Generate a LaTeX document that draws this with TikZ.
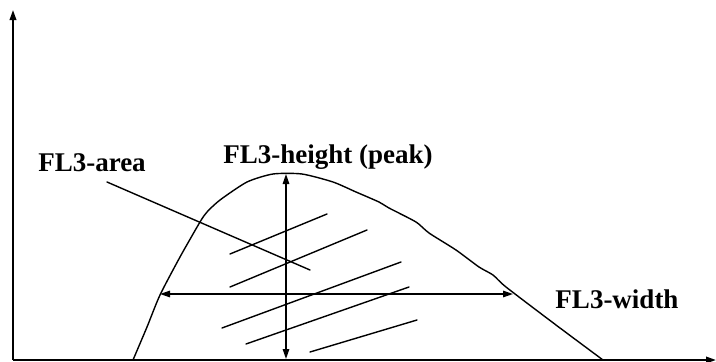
\documentclass[tikz,border=0pt]{standalone}
\usepackage{fontspec}
\setmainfont{Liberation Serif}
\usetikzlibrary{arrows.meta}
\begin{document}
\begin{tikzpicture}[x=1pt,y=-1pt,
  line/.style={line width=1.4pt, line cap=round, line join=round},
  axis/.style={line width=1.9pt, -{Triangle[length=10pt,width=6.5pt]}},
  dim/.style={line width=1.4pt, {Triangle[length=10pt,width=6.5pt]}-{Triangle[length=10pt,width=6.5pt]}},
  lbl/.style={font=\bfseries\fontsize{27}{31}\selectfont, inner sep=0pt}]
\useasboundingbox (0,0) rectangle (716,362);
% axes
\coordinate (o) at (13,360);
\coordinate (ytop) at (13,10);
\coordinate (xend) at (716,360);
\draw[axis] (o) -- (ytop);
\draw[axis] (o) -- (xend);
% curve
\draw[line] plot[smooth, tension=0.4] coordinates {(133,360) (147,327) (160,295) (180,257) (200,222) (207,212) (220,200) (247,182) (273,174) (302,174) (333,182) (356,192) (379,202) (389,208) (416,222) (429,233) (456,250) (479,267) (493,275) (506,287) (556,325) (603,360)};
% dimension arrows
\coordinate (wl) at (160,294);
\coordinate (wr) at (513,294);
\draw[dim] (wl) -- (wr);
\coordinate (ht) at (286,174);
\coordinate (hb) at (286,359);
\draw[dim] (ht) -- (hb);
% hatching
\foreach \a/\b in {{(230,254)}/{(327,214)},{(230,287)}/{(367,230)},{(222,328)}/{(401,262)},{(246,344)}/{(409,287)},{(310,352)}/{(417,320)}}
  \draw[line] \a -- \b;
% labels
\node[lbl] (area) at (92,163) {FL3-area};
\node[lbl] (height) at (328,157) {FL3-height (peak)};
\node[lbl] (width) at (617,299) {FL3-width};
\coordinate (aend) at (310,270);
\draw[line] (107,182) -- (aend);
\end{tikzpicture}
\end{document}
